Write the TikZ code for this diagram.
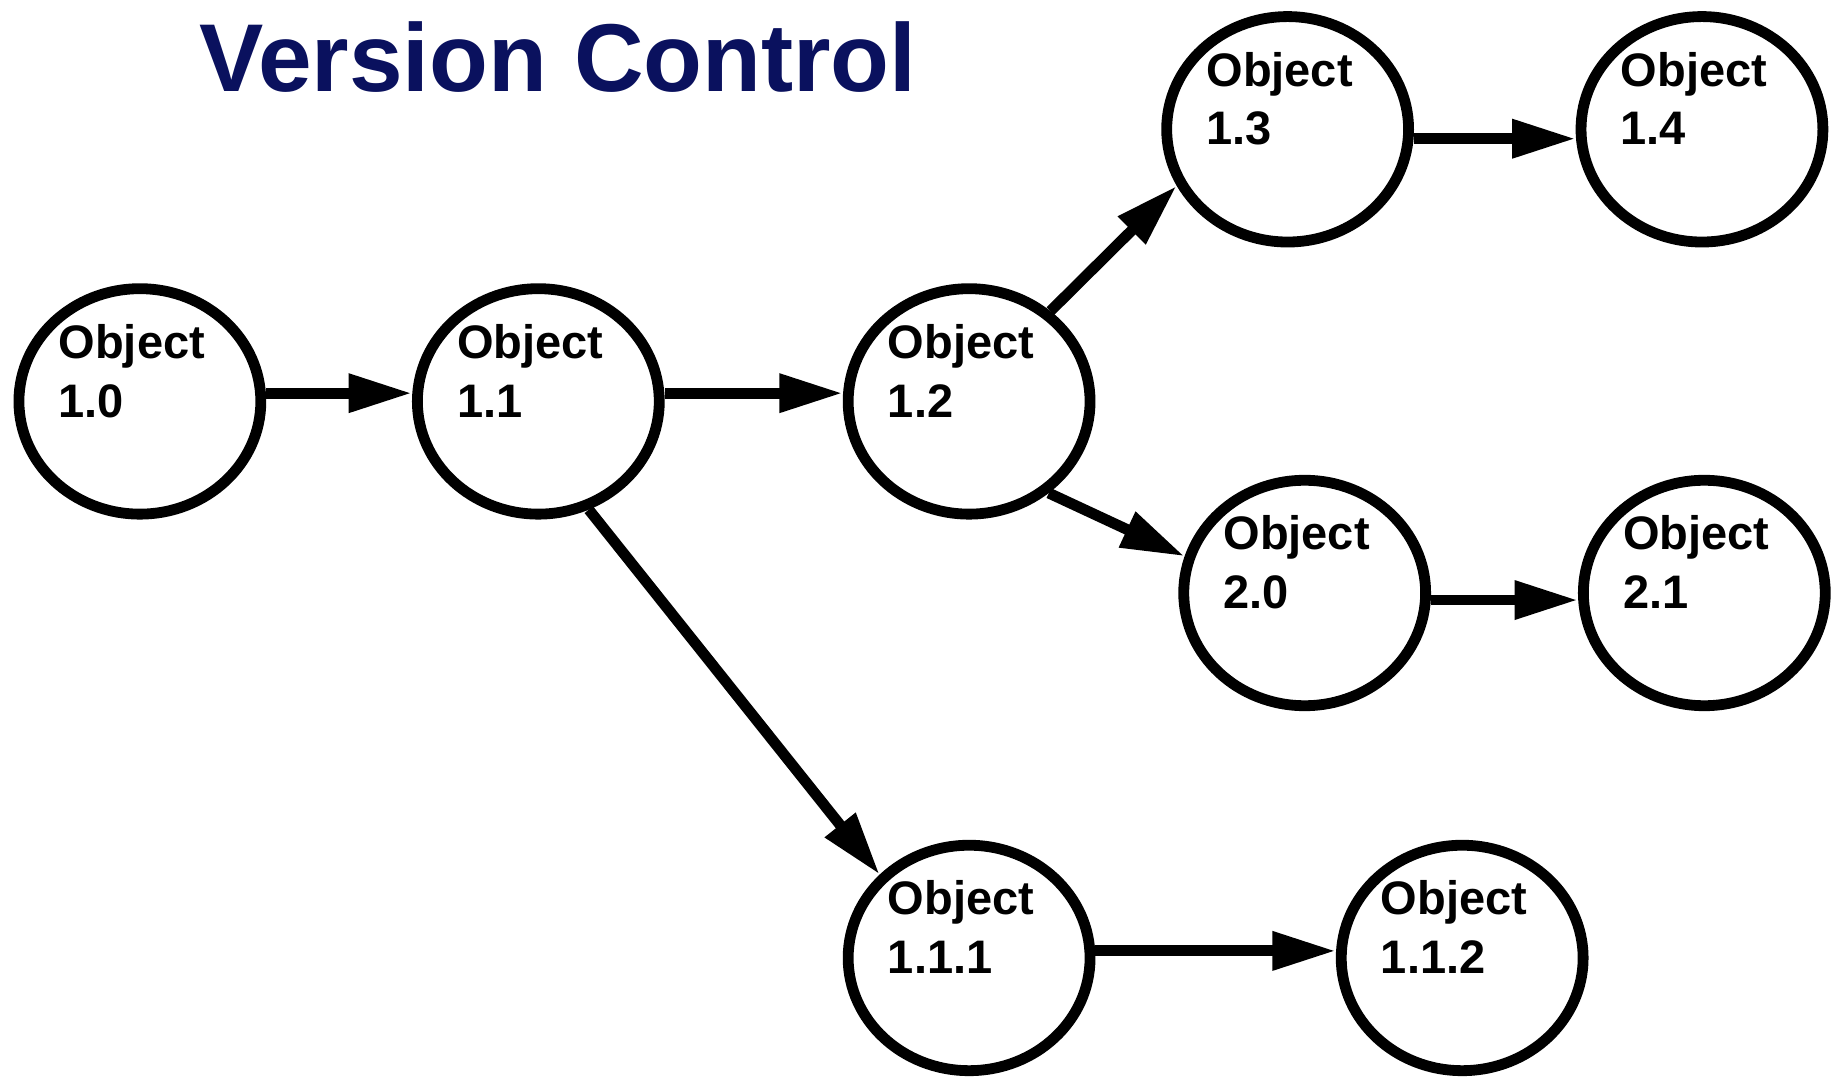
\documentclass[tikz,border=0pt]{standalone}
\usepackage{fontspec}
\setmainfont{Liberation Sans}
\usetikzlibrary{shapes.geometric,arrows.meta,calc}
\definecolor{titleblue}{RGB}{10,17,94}
\newcommand\objnode[4]{%
  \node[obj] (#1) at (#2,#3) {};
  \node[lbl] (#1-a) at ($(#1.center)+(-69.5,-36.7)$) {Object};
  \node[lbl] (#1-b) at ($(#1-a.base west)+(0,50)$) {#4};
}
\begin{document}
\begin{tikzpicture}[x=0.5pt,y=-0.5pt,
  obj/.style={ellipse, draw, line width=4.6pt, minimum width=102.9pt, minimum height=95.9pt, inner sep=0pt},
  lbl/.style={anchor=base west, inner sep=0pt, font=\fontsize{20}{25}\selectfont\bfseries},
  link/.style={line width=4.6pt, -{Triangle[length=27pt,width=15.6pt]}},
  ]
  \useasboundingbox (0,0) rectangle (1568,917);
  \node[anchor=base west, inner sep=0pt, text=titleblue, font=\fontsize{41}{49}\selectfont\bfseries] (title) at (169,78) {Version Control};

  \objnode{n10}{119}{341.5}{1.0}
  \objnode{n11}{458}{341.5}{1.1}
  \objnode{n12}{824.5}{341.5}{1.2}
  \objnode{n13}{1095.5}{110}{1.3}
  \objnode{n14}{1448}{110}{1.4}
  \objnode{n20}{1110}{504.5}{2.0}
  \objnode{n21}{1450}{504.5}{2.1}
  \objnode{n111}{824.5}{815}{1.1.1}
  \objnode{n112}{1244}{815}{1.1.2}

  \draw[link] ([yshift=3.5pt]n10.east) -- ([yshift=3.5pt]n11.west);
  \draw[link] ([yshift=3.5pt]n11.east) -- ([yshift=3.5pt]n12.west);
  \draw[link] (n12.48.5) -- (n13.207.5);
  \draw[link] (n12.311) -- (n20.163);
  \draw[link] ([yshift=-4pt]n13.east) -- ([yshift=-4pt]n14.west);
  \draw[link] ([yshift=-3pt]n20.east) -- ([yshift=-3pt]n21.west);
  \draw[link] (n11.295) -- (n111.137.7);
  \draw[link] ([yshift=3pt]n111.east) -- ([yshift=3pt]n112.west);
\end{tikzpicture}
\end{document}
